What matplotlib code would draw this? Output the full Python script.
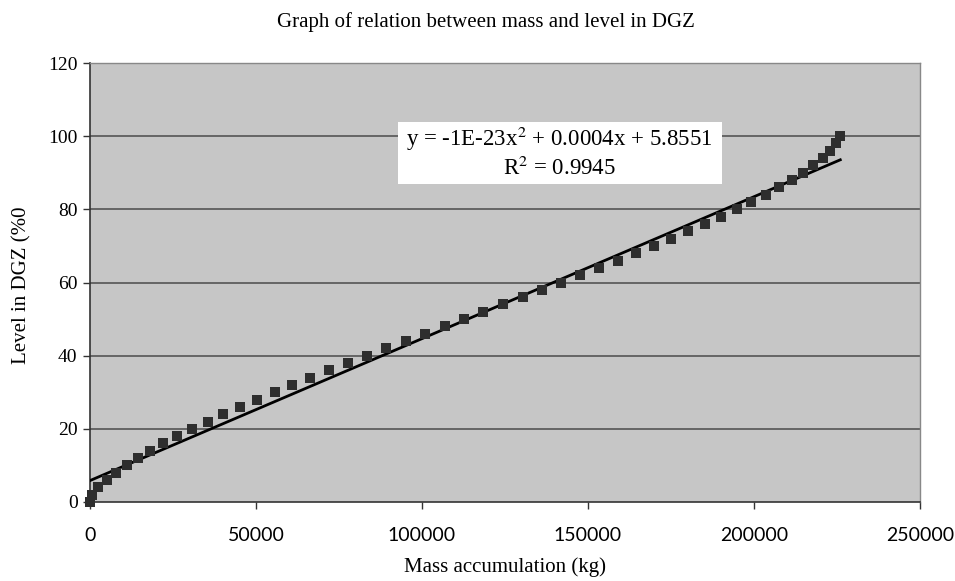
import numpy as np
import matplotlib
matplotlib.use("Agg")
import matplotlib.pyplot as plt
from matplotlib.patches import Rectangle

plt.rcParams["mathtext.fontset"] = "stix"

# Data
level = [0, 2, 4, 6, 8, 10, 12, 14, 16, 18, 20, 22, 24, 26, 28, 30, 32, 34, 36, 38,
         40, 42, 44, 46, 48, 50, 52, 54, 56, 58, 60, 62, 64, 66, 68, 70, 72, 74, 76, 78,
         80, 82, 84, 86, 88, 90, 92, 94, 96, 98, 100]
mass = [0, 700, 2500, 5030, 7830, 11050, 14460, 18160, 22080, 26300, 30810, 35540,
        40150, 45180, 50390, 55720, 60930, 66360, 72080, 77800, 83430, 89250, 95090,
        101000, 106930, 112740, 118460, 124300, 130330, 136230, 141950, 147680, 153310,
        158940, 164360, 169790, 175090, 180210, 185240, 190150, 194790, 199100, 203520,
        207530, 211350, 214850, 217860, 220690, 222980, 224780, 225990]

trend_coef = [-1e-23, 0.000388, 5.8551]  # drawn trendline coefficients
eq_text = "y = -1E-23x$^2$ + 0.0004x + 5.8551"
r2_text = "R$^2$ = 0.9945"

title = "Graph of relation between mass and level in DGZ"
xlabel = "Mass accumulation (kg)"
ylabel = "Level in DGZ (%0"
xticks = [0, 50000, 100000, 150000, 200000, 250000]
yticks = [0, 20, 40, 60, 80, 100, 120]

serif = ["Liberation Serif", "DejaVu Serif"]

fig = plt.figure(figsize=(9.55, 5.81), dpi=100, facecolor="white")
ax = fig.add_axes([90/955, 1-502/581, 830/955, 439/581])
ax.set_facecolor("#c6c6c6")

ax.set_xlim(0, 250000)
ax.set_ylim(0, 120)
ax.set_xticks(xticks)
ax.set_yticks(yticks)
ax.set_xticklabels([str(t) for t in xticks], family="Lato", fontsize=14)
ax.set_yticklabels([str(t) for t in yticks], family=serif, fontsize=14)
ax.tick_params(axis="both", direction="out", length=5, width=1, color="#333333")
ax.tick_params(axis="x", pad=13)
ax.tick_params(axis="y", pad=4)

for y in yticks[1:-1]:
    ax.axhline(y, color="#555555", lw=1.2, zorder=1)

for s in ["left", "bottom"]:
    ax.spines[s].set_color("#333333")
    ax.spines[s].set_linewidth(1.2)
for s in ["top", "right"]:
    ax.spines[s].set_color("#888888")
    ax.spines[s].set_linewidth(1.0)

xs = np.linspace(0, max(mass), 200)
ax.plot(xs, np.polyval(trend_coef, xs), color="black", lw=2, zorder=3)
ax.scatter(mass, level, marker="s", s=42, color="#2e2e2e", zorder=4,
           linewidths=0, clip_on=False)

# equation box
fig.patches.append(Rectangle((398/955, 1-184/581), 324/955, 62/581,
                             transform=fig.transFigure, facecolor="white",
                             edgecolor="none", zorder=5))
fig.text(559/955, 1-139/581, eq_text, ha="center", va="center",
         family=serif, fontsize=16.5, zorder=6)
fig.text(559/955, 1-168/581, r2_text, ha="center", va="center",
         family=serif, fontsize=16.5, zorder=6)

fig.text(486/955, 1-22/581, title, ha="center", va="center", family=serif, fontsize=15)
fig.text(505/955, 1-567/581, xlabel, ha="center", va="center", family=serif, fontsize=15)
fig.text(22/955, 1-285/581, ylabel, ha="center", va="center", rotation=90,
         family=serif, fontsize=15)

fig.savefig("out.png", dpi=100, facecolor="white")
